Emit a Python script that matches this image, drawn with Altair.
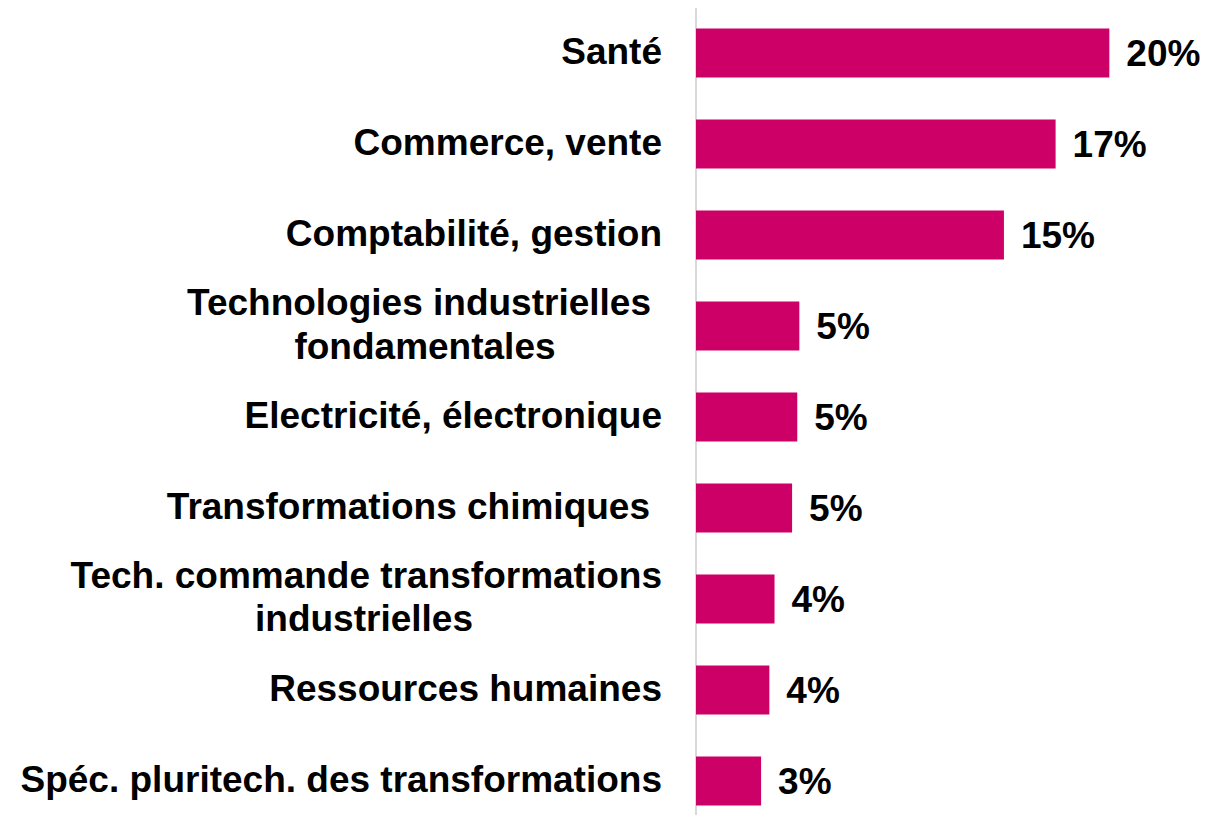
import altair as alt
import pandas as pd

# ---- data ----
categories = [
    "Santé",
    "Commerce, vente",
    "Comptabilité, gestion",
    "Technologies industrielles\u00a0\nfondamentales",
    "Electricité, électronique",
    "Transformations chimiques\u00a0",
    "Tech. commande transformations\nindustrielles",
    "Ressources humaines",
    "Spéc. pluritech. des transformations",
]
values = [20.0, 17.4, 14.9, 5.0, 4.9, 4.65, 3.8, 3.55, 3.15]
value_labels = ["20%", "17%", "15%", "5%", "5%", "5%", "4%", "4%", "3%"]

bars_df = pd.DataFrame({"cat": categories, "value": values, "lab": value_labels})

rows = []
for i, c in enumerate(categories):
    parts = c.split("\n")
    for j, p in enumerate(parts):
        rows.append({"cat": c, "pos": i, "line": p.rstrip("\u00a0"),
                     "trail": p.endswith("\u00a0"), "idx": j, "n": len(parts)})
lines_df = pd.DataFrame(rows)

FONT = "Liberation Sans"
FS = 37
W, H = 496, 807

yscale = alt.Scale(domain=categories, range=[0, 818], paddingInner=0.4615, paddingOuter=0.2255)
y_enc = alt.Y("cat:N", scale=yscale, axis=None, sort=categories)
xscale = alt.Scale(domain=[0, 24], nice=False)

base_bars = alt.Chart(bars_df)

bars = base_bars.mark_bar(color="#CC0066").encode(
    x=alt.X("value:Q", scale=xscale, axis=None),
    y=y_enc,
)

pct = base_bars.mark_text(
    align="left", baseline="middle", dx=17, dy=2, font=FONT, fontSize=FS,
    fontWeight="bold", color="#000000",
).encode(x=alt.X("value:Q", scale=xscale, axis=None), y=y_enc, text="lab:N")

base_lines = alt.Chart(lines_df)
txt_kw = dict(baseline="middle", font=FONT, fontSize=FS, fontWeight="bold", color="#000000")

single = base_lines.mark_text(align="right", **txt_kw).encode(
    x=alt.value(-34), y=y_enc, text="line:N"
).transform_filter("datum.n == 1 && !datum.trail")

single_trail = base_lines.mark_text(align="right", dx=-12, **txt_kw).encode(
    x=alt.value(-34), y=y_enc, text="line:N"
).transform_filter("datum.n == 1 && datum.trail")

first = base_lines.mark_text(align="right", dy=-22, **txt_kw).encode(
    x=alt.value(-34), y=y_enc, text="line:N"
).transform_filter("datum.n == 2 && datum.idx == 0 && !datum.trail")

first_trail = base_lines.mark_text(align="right", dy=-22, dx=-11, **txt_kw).encode(
    x=alt.value(-34), y=y_enc, text="line:N"
).transform_filter("datum.n == 2 && datum.idx == 0 && datum.trail")

second_a = base_lines.mark_text(align="center", dy=22, **txt_kw).encode(
    x=alt.value(-271), y=y_enc, text="line:N"
).transform_filter("datum.n == 2 && datum.idx == 1 && datum.pos == 3")

second_b = base_lines.mark_text(align="center", dy=21, **txt_kw).encode(
    x=alt.value(-332), y=y_enc, text="line:N"
).transform_filter("datum.n == 2 && datum.idx == 1 && datum.pos == 6")

axis_line = alt.Chart(bars_df).mark_rule(color="#d9d9d9", strokeWidth=1.5).encode(
    x=alt.value(0), y=alt.value(0), y2=alt.value(H)
)

chart = alt.layer(axis_line, bars, pct, single, single_trail, first, first_trail,
                  second_a, second_b).properties(
    width=W, height=H,
    autosize=alt.AutoSizeParams(type="none"),
    padding={"left": 688, "top": 0, "right": 23, "bottom": 0},
).configure_view(stroke=None)

chart.save("out.html", embed_options={"renderer": "svg", "actions": False})
